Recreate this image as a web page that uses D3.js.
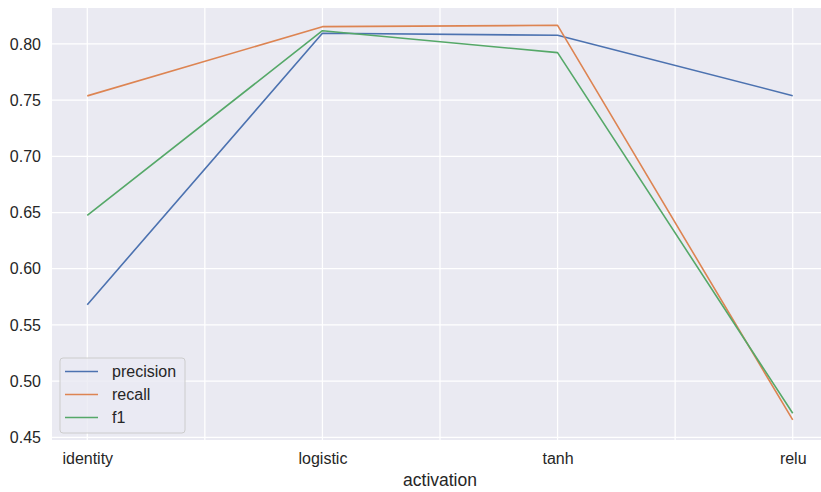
<!DOCTYPE html>
<html>
<head>
<meta charset="utf-8">
<script src="https://cdn.jsdelivr.net/npm/d3@7"></script>
<style>
  html, body { margin: 0; padding: 0; background: #ffffff; }
  svg { display: block; font-family: "Liberation Sans", Arial, sans-serif; }
</style>
</head>
<body>
<svg id="chart" width="821" height="492"></svg>
<script>
// Activation functions on the x axis
const categories = ["identity", "logistic", "tanh", "relu"];

// Metric scores per activation
const precision = [0.568, 0.8095, 0.8077, 0.754];
const recall    = [0.7538, 0.8154, 0.8166, 0.4655];
const f1        = [0.6475, 0.8118, 0.7923, 0.4714];

const seriesNames  = ["precision", "recall", "f1"];
const seriesColors = ["#4C72B0", "#DD8452", "#55A868"];
const yTicks = [0.45, 0.50, 0.55, 0.60, 0.65, 0.70, 0.75, 0.80];

const series = [precision, recall, f1].map((values, i) => ({
  name: seriesNames[i], color: seriesColors[i], values
}));

const svg = d3.select("#chart");
const plot = { left: 52, right: 828, top: 8, bottom: 440 };

const x = d3.scaleLinear().domain([-0.15, 3.15]).range([plot.left, plot.right]);
const y = d3.scaleLinear().domain([0.4476, 0.832]).range([plot.bottom, plot.top]);

// Plot background
svg.append("rect")
  .attr("x", plot.left).attr("y", plot.top)
  .attr("width", plot.right - plot.left).attr("height", plot.bottom - plot.top)
  .attr("fill", "#EAEAF2");

// Grid lines
const grid = svg.append("g").attr("stroke", "#ffffff").attr("stroke-width", 1.25);
grid.selectAll("line.h").data(yTicks).join("line")
  .attr("x1", plot.left).attr("x2", plot.right)
  .attr("y1", d => y(d)).attr("y2", d => y(d));
const xGrid = d3.range(0, 3.01, 0.5);
grid.selectAll("line.v").data(xGrid).join("line")
  .attr("y1", plot.top).attr("y2", plot.bottom)
  .attr("x1", d => x(d)).attr("x2", d => x(d));

// Y axis labels
const yAxis = d3.axisLeft(y).tickValues(yTicks).tickFormat(d3.format(".2f")).tickSize(0).tickPadding(11);
svg.append("g").attr("transform", `translate(${plot.left},0)`).call(yAxis)
  .call(g => g.select(".domain").remove())
  .call(g => g.selectAll("text").attr("font-size", 16).attr("fill", "#262626")
    .attr("font-family", "Liberation Sans, Arial, sans-serif"));

// X axis labels
const xAxis = d3.axisBottom(x).tickValues(d3.range(categories.length))
  .tickFormat(i => categories[i]).tickSize(0).tickPadding(13);
svg.append("g").attr("transform", `translate(0,${plot.bottom})`).call(xAxis)
  .call(g => g.select(".domain").remove())
  .call(g => g.selectAll("text").attr("font-size", 16).attr("fill", "#262626")
    .attr("font-family", "Liberation Sans, Arial, sans-serif"));

svg.append("text")
  .attr("x", (plot.left + 828) / 2).attr("y", 486)
  .attr("text-anchor", "middle").attr("font-size", 17.5).attr("fill", "#262626")
  .text("activation");

// Lines
const line = d3.line().x((d, i) => x(i)).y(d => y(d));
svg.append("g").selectAll("path").data(series).join("path")
  .attr("d", d => line(d.values))
  .attr("fill", "none").attr("stroke", d => d.color).attr("stroke-width", 1.6)
  .attr("stroke-linejoin", "round");

// Legend
const lg = svg.append("g").attr("transform", "translate(60,358)");
lg.append("rect").attr("width", 125).attr("height", 75).attr("rx", 3)
  .attr("fill", "#EAEAF2").attr("fill-opacity", 0.8).attr("stroke", "#cccccc").attr("stroke-width", 1);
series.forEach((s, i) => {
  const cy = 13.5 + i * 23;
  lg.append("line").attr("x1", 5).attr("x2", 38).attr("y1", cy).attr("y2", cy)
    .attr("stroke", s.color).attr("stroke-width", 1.6);
  lg.append("text").attr("x", 52).attr("y", cy).attr("dy", "0.35em")
    .attr("font-size", 16).attr("fill", "#262626").text(s.name);
});
</script>
</body>
</html>
